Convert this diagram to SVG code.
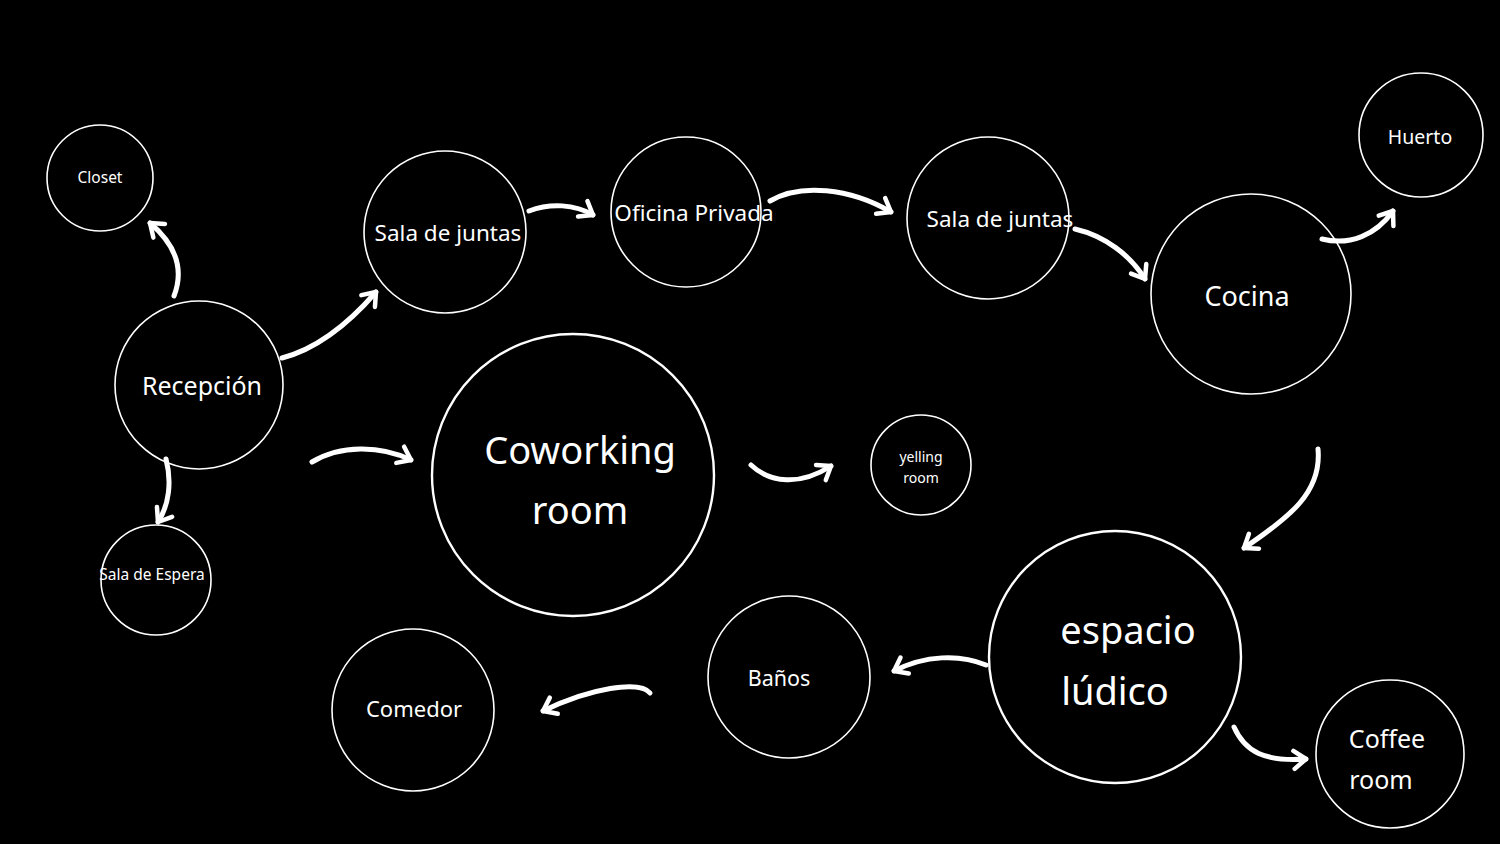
<svg xmlns="http://www.w3.org/2000/svg" width="1500" height="844" viewBox="0 0 1500 844">
<defs>
<style>
.n{fill:none;stroke:#fff;stroke-width:1.6}
.nb{fill:none;stroke:#fff;stroke-width:2.4}
.t{fill:#fff;font-family:"Noto Sans","Open Sans",sans-serif;text-anchor:middle}
.a{fill:none;stroke:#fff;stroke-width:5;stroke-linecap:round}
</style>
<marker id="ah" viewBox="-16 -13 20 26" refX="0" refY="0" markerWidth="20" markerHeight="26" markerUnits="userSpaceOnUse" orient="auto">
<path d="M-12,-9 L0,0 L-12,9" fill="none" stroke="#fff" stroke-width="4.5" stroke-linecap="round" stroke-linejoin="round"/>
</marker>
</defs>
<rect width="1500" height="844" fill="#000"/>
<g id="closet"><circle class="n" cx="100" cy="178" r="53"/><text class="t" x="100" y="183" font-size="15.5">Closet</text></g>
<g id="recepcion"><circle class="n" cx="199" cy="385" r="84"/><text class="t" x="202" y="395" font-size="25">Recepción</text></g>
<g id="sala-espera"><circle class="n" cx="156" cy="580" r="55"/><text class="t" x="152" y="580" font-size="15.5">Sala de Espera</text></g>
<g id="sala-juntas-1"><circle class="n" cx="445" cy="232" r="81"/><text class="t" x="448" y="241" font-size="22.5">Sala de juntas</text></g>
<g id="oficina-privada"><circle class="n" cx="686" cy="212" r="75"/><text class="t" x="694" y="221" font-size="22.5">Oficina Privada</text></g>
<g id="sala-juntas-2"><circle class="n" cx="988" cy="218" r="81"/><text class="t" x="1000" y="227" font-size="22.5">Sala de juntas</text></g>
<g id="cocina"><circle class="n" cx="1251" cy="294" r="100"/><text class="t" x="1247" y="306" font-size="27">Cocina</text></g>
<g id="huerto"><circle class="n" cx="1421" cy="135" r="62"/><text class="t" x="1420" y="144" font-size="19.5">Huerto</text></g>
<g id="coworking"><circle class="nb" cx="573" cy="475" r="141"/><text class="t" x="580" y="464" font-size="38">Coworking</text><text class="t" x="580" y="524" font-size="38">room</text></g>
<g id="yelling"><circle class="n" cx="921" cy="465" r="50"/><text class="t" x="921" y="462" font-size="14">yelling</text><text class="t" x="921" y="483" font-size="14">room</text></g>
<g id="espacio"><circle class="nb" cx="1115" cy="657" r="126"/><text class="t" x="1128" y="644" font-size="38">espacio</text><text class="t" x="1115" y="705" font-size="38">lúdico</text></g>
<g id="coffee"><circle class="n" cx="1390" cy="754" r="74"/><text class="t" x="1387" y="748" font-size="25">Coffee</text><text class="t" x="1381" y="789" font-size="25">room</text></g>
<g id="banos"><circle class="n" cx="789" cy="677" r="81"/><text class="t" x="779" y="686" font-size="21.5">Baños</text></g>
<g id="comedor"><circle class="n" cx="413" cy="710" r="81"/><text class="t" x="414" y="717" font-size="22">Comedor</text></g>
<g id="connectors">
<path class="a" marker-end="url(#ah)" d="M174,296 C184,270 176,245 150,223"/>
<path class="a" marker-end="url(#ah)" d="M282,358 C320,348 350,322 376,292"/>
<path class="a" marker-end="url(#ah)" d="M166,459 C172,482 169,505 158,522"/>
<path class="a" marker-end="url(#ah)" d="M312,462 C340,445 380,445 411,460"/>
<path class="a" marker-end="url(#ah)" d="M529,211 C550,203 575,204 593,215"/>
<path class="a" marker-end="url(#ah)" d="M770,201 C800,183 850,188 891,212"/>
<path class="a" marker-end="url(#ah)" d="M1075,229 C1105,236 1130,255 1145,279"/>
<path class="a" marker-end="url(#ah)" d="M1322,239 C1350,246 1376,235 1393,211"/>
<path class="a" marker-end="url(#ah)" d="M1318,449 C1322,492 1290,517 1244,548"/>
<path class="a" marker-end="url(#ah)" d="M751,465 C770,483 800,486 831,466"/>
<path class="a" marker-end="url(#ah)" d="M986,665 C960,654 925,655 894,671"/>
<path class="a" marker-end="url(#ah)" d="M650,693 C640,680 590,688 543,711"/>
<path class="a" marker-end="url(#ah)" d="M1234,727 C1245,752 1265,762 1306,759"/>
</g>
</svg>
